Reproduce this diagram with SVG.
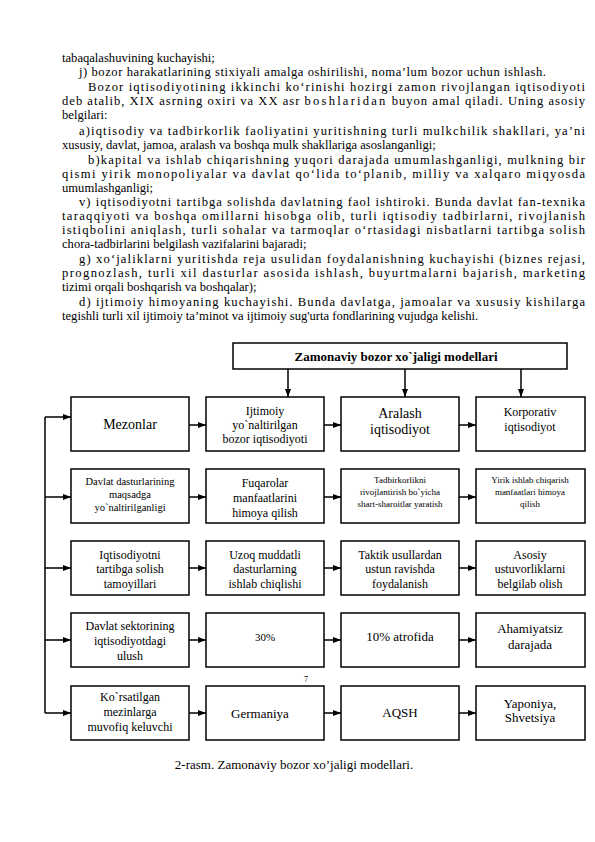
<svg xmlns="http://www.w3.org/2000/svg" width="595" height="842" viewBox="0 0 595 842">
<style>
.p{font-family:"Liberation Serif","Times New Roman",serif;font-size:12.6px;fill:#000}
.t{font-family:"Liberation Serif","Times New Roman",serif;font-size:12px;fill:#000;text-anchor:middle}
.box{fill:#fff;stroke:#000;stroke-width:1.5}
.ln{fill:none;stroke:#000;stroke-width:1.5}
</style>
<defs>
<marker id="ah" viewBox="0 0 8 6" refX="8" refY="3" markerWidth="8" markerHeight="6" markerUnits="userSpaceOnUse" orient="auto">
<path d="M0,0 L8,3 L0,6 Z" fill="#000"/>
</marker>
</defs>
<rect width="595" height="842" fill="#fff"/>
<g id="paragraph">
<text class="p" x="62" y="62">tabaqalashuvining kuchayishi;</text>
<text class="p" x="79" y="76" textLength="467" lengthAdjust="spacing">j) bozor harakatlarining stixiyali amalga oshirilishi, noma’lum bozor uchun ishlash.</text>
<text class="p" x="88" y="91" textLength="497" lengthAdjust="spacing">Bozor iqtisodiyotining ikkinchi ko‘rinishi hozirgi zamon rivojlangan iqtisodiyoti</text>
<text class="p" x="62" y="105" textLength="523" lengthAdjust="spacing">deb atalib, XIX asrning oxiri va XX asr <tspan letter-spacing="1.2">boshlaridan</tspan> buyon amal qiladi. Uning asosiy</text>
<text class="p" x="62" y="119">belgilari:</text>
<text class="p" x="79" y="135" textLength="506" lengthAdjust="spacing">a)iqtisodiy va tadbirkorlik faoliyatini yuritishning turli mulkchilik shakllari, ya’ni</text>
<text class="p" x="62" y="149">xususiy, davlat, jamoa, aralash va boshqa mulk shakllariga asoslanganligi;</text>
<text class="p" x="88" y="164" textLength="497" lengthAdjust="spacing">b)kapital va ishlab chiqarishning yuqori darajada umumlashganligi, mulkning bir</text>
<text class="p" x="62" y="178" textLength="523" lengthAdjust="spacing">qismi yirik monopoliyalar va davlat qo‘lida to‘planib, milliy va xalqaro miqyosda</text>
<text class="p" x="62" y="192">umumlashganligi;</text>
<text class="p" x="79" y="206" textLength="506" lengthAdjust="spacing">v) iqtisodiyotni tartibga solishda davlatning faol ishtiroki. Bunda davlat fan-texnika</text>
<text class="p" x="62" y="220" textLength="523" lengthAdjust="spacing">taraqqiyoti va boshqa omillarni hisobga olib, turli iqtisodiy tadbirlarni, rivojlanish</text>
<text class="p" x="62" y="234" textLength="523" lengthAdjust="spacing">istiqbolini aniqlash, turli sohalar va tarmoqlar o‘rtasidagi nisbatlarni tartibga solish</text>
<text class="p" x="62" y="248">chora-tadbirlarini belgilash vazifalarini bajaradi;</text>
<text class="p" x="79" y="263" textLength="506" lengthAdjust="spacing">g) xo‘jaliklarni yuritishda reja usulidan foydalanishning kuchayishi (biznes rejasi,</text>
<text class="p" x="62" y="277" textLength="523" lengthAdjust="spacing">prognozlash, turli xil dasturlar asosida ishlash, buyurtmalarni bajarish, marketing</text>
<text class="p" x="62" y="291">tizimi orqali boshqarish va boshqalar);</text>
<text class="p" x="79" y="306" textLength="506" lengthAdjust="spacing">d) ijtimoiy himoyaning kuchayishi. Bunda davlatga, jamoalar va xususiy kishilarga</text>
<text class="p" x="62" y="320">tegishli turli xil ijtimoiy ta’minot va ijtimoiy sug'urta fondlarining vujudga kelishi.</text>
</g>
<g id="connectors">
<line class="ln" x1="288" y1="369" x2="288" y2="397" marker-end="url(#ah)"/>
<line class="ln" x1="405" y1="369" x2="405" y2="397" marker-end="url(#ah)"/>
<line class="ln" x1="521" y1="369" x2="521" y2="397" marker-end="url(#ah)"/>
<line class="ln" x1="45" y1="417" x2="45" y2="713"/>
<line class="ln" x1="45" y1="417" x2="71" y2="417" marker-end="url(#ah)"/>
<line class="ln" x1="45" y1="497" x2="71" y2="497" marker-end="url(#ah)"/>
<line class="ln" x1="45" y1="568" x2="71" y2="568" marker-end="url(#ah)"/>
<line class="ln" x1="45" y1="640" x2="71" y2="640" marker-end="url(#ah)"/>
<line class="ln" x1="45" y1="713" x2="71" y2="713" marker-end="url(#ah)"/>
<line class="ln" x1="189" y1="425" x2="206" y2="425" marker-end="url(#ah)"/>
<line class="ln" x1="324" y1="425" x2="341" y2="425" marker-end="url(#ah)"/>
<line class="ln" x1="459" y1="425" x2="476" y2="425" marker-end="url(#ah)"/>
<line class="ln" x1="189" y1="497" x2="206" y2="497" marker-end="url(#ah)"/>
<line class="ln" x1="324" y1="497" x2="341" y2="497" marker-end="url(#ah)"/>
<line class="ln" x1="459" y1="497" x2="476" y2="497" marker-end="url(#ah)"/>
<line class="ln" x1="189" y1="568" x2="206" y2="568" marker-end="url(#ah)"/>
<line class="ln" x1="324" y1="568" x2="341" y2="568" marker-end="url(#ah)"/>
<line class="ln" x1="459" y1="568" x2="476" y2="568" marker-end="url(#ah)"/>
<line class="ln" x1="189" y1="640" x2="206" y2="640" marker-end="url(#ah)"/>
<line class="ln" x1="324" y1="640" x2="341" y2="640" marker-end="url(#ah)"/>
<line class="ln" x1="459" y1="640" x2="476" y2="640" marker-end="url(#ah)"/>
<line class="ln" x1="189" y1="713" x2="206" y2="713" marker-end="url(#ah)"/>
<line class="ln" x1="324" y1="713" x2="341" y2="713" marker-end="url(#ah)"/>
<line class="ln" x1="459" y1="713" x2="476" y2="713" marker-end="url(#ah)"/>
</g>
<g id="title">
<rect class="box" x="233" y="343" width="334" height="26"/>
<text class="t" x="396" y="361" style="font-weight:bold;font-size:13px">Zamonaviy bozor xo`jaligi modellari</text>
</g>
<g id="mezonlar"><rect class="box" x="71" y="397" width="118" height="54"/>
<text class="t" x="130" y="429" style="font-size:14px">Mezonlar</text></g>
<g id="ijtimoiy"><rect class="box" x="206" y="397" width="118" height="54"/>
<text class="t" x="265" y="415">Ijtimoiy</text><text class="t" x="265" y="429">yo`naltirilgan</text><text class="t" x="265" y="443">bozor iqtisodiyoti</text></g>
<g id="aralash"><rect class="box" x="341" y="397" width="118" height="54"/>
<text class="t" x="400" y="418" style="font-size:14px">Aralash</text><text class="t" x="400" y="434" style="font-size:14px">iqtisodiyot</text></g>
<g id="korporativ"><rect class="box" x="476" y="397" width="109" height="54"/>
<text class="t" x="530" y="416">Korporativ</text><text class="t" x="530" y="431">iqtisodiyot</text></g>

<g id="davlat-dasturlari"><rect class="box" x="71" y="469" width="118" height="54"/>
<text class="t" x="130" y="485" style="font-size:10.5px">Davlat dasturlarining</text><text class="t" x="130" y="498" style="font-size:10.5px">maqsadga</text><text class="t" x="130" y="511" style="font-size:10.5px">yo`naltirilganligi</text></g>
<g id="fuqarolar"><rect class="box" x="206" y="469" width="118" height="54"/>
<text class="t" x="265" y="487">Fuqarolar</text><text class="t" x="265" y="502">manfaatlarini</text><text class="t" x="265" y="517">himoya qilish</text></g>
<g id="tadbirkorlik"><rect class="box" x="341" y="469" width="118" height="54"/>
<text class="t" x="400" y="483" style="font-size:9px">Tadbirkorlikni</text><text class="t" x="400" y="495" style="font-size:9px">rivojlantirish bo`yicha</text><text class="t" x="400" y="507" style="font-size:9px">shart-sharoitlar yaratish</text></g>
<g id="yirik"><rect class="box" x="476" y="469" width="109" height="54"/>
<text class="t" x="530" y="483" style="font-size:9px">Yirik ishlab chiqarish</text><text class="t" x="530" y="495" style="font-size:9px">manfaatlari himoya</text><text class="t" x="530" y="507" style="font-size:9px">qilish</text></g>

<g id="tamoyillar"><rect class="box" x="71" y="541" width="118" height="54"/>
<text class="t" x="130" y="559">Iqtisodiyotni</text><text class="t" x="130" y="573">tartibga solish</text><text class="t" x="130" y="588">tamoyillari</text></g>
<g id="uzoq"><rect class="box" x="206" y="541" width="118" height="54"/>
<text class="t" x="265" y="559">Uzoq muddatli</text><text class="t" x="265" y="573">dasturlarning</text><text class="t" x="265" y="588">ishlab chiqlishi</text></g>
<g id="taktik"><rect class="box" x="341" y="541" width="118" height="54"/>
<text class="t" x="400" y="559">Taktik usullardan</text><text class="t" x="400" y="573">ustun ravishda</text><text class="t" x="400" y="588">foydalanish</text></g>
<g id="asosiy"><rect class="box" x="476" y="541" width="109" height="54"/>
<text class="t" x="530" y="559">Asosiy</text><text class="t" x="530" y="573">ustuvorliklarni</text><text class="t" x="530" y="588">belgilab olish</text></g>

<g id="sektor"><rect class="box" x="71" y="613" width="118" height="54"/>
<text class="t" x="130" y="630">Davlat sektorining</text><text class="t" x="130" y="645">iqtisodiyotdagi</text><text class="t" x="130" y="660">ulush</text></g>
<g id="p30"><rect class="box" x="206" y="613" width="118" height="54"/>
<text class="t" x="265" y="641" style="font-size:11px">30%</text></g>
<g id="p10"><rect class="box" x="341" y="613" width="118" height="54"/>
<text class="t" x="400" y="641" style="font-size:13px">10% atrofida</text></g>
<g id="ahamiyatsiz"><rect class="box" x="476" y="613" width="109" height="54"/>
<text class="t" x="530" y="633" style="font-size:13px">Ahamiyatsiz</text><text class="t" x="530" y="649" style="font-size:13px">darajada</text></g>

<text x="306" y="682" style="font-family:'Liberation Serif',serif;font-size:8px;text-anchor:middle">7</text>

<g id="mezonlarga"><rect class="box" x="71" y="686" width="118" height="54"/>
<text class="t" x="130" y="701">Ko`rsatilgan</text><text class="t" x="130" y="716">mezinlarga</text><text class="t" x="130" y="731">muvofiq keluvchi</text></g>
<g id="germaniya"><rect class="box" x="206" y="686" width="118" height="54"/>
<text class="t" x="260" y="718" style="font-size:13px">Germaniya</text></g>
<g id="aqsh"><rect class="box" x="341" y="686" width="118" height="54"/>
<text class="t" x="400" y="717" style="font-size:13px">AQSH</text></g>
<g id="yaponiya"><rect class="box" x="476" y="686" width="109" height="54"/>
<text class="t" x="530" y="708" style="font-size:13px">Yaponiya,</text><text class="t" x="530" y="722" style="font-size:13px">Shvetsiya</text></g>

<text class="p" x="294" y="769" style="text-anchor:middle;font-size:13px">2-rasm. Zamonaviy bozor xo’jaligi modellari.</text>
</svg>
